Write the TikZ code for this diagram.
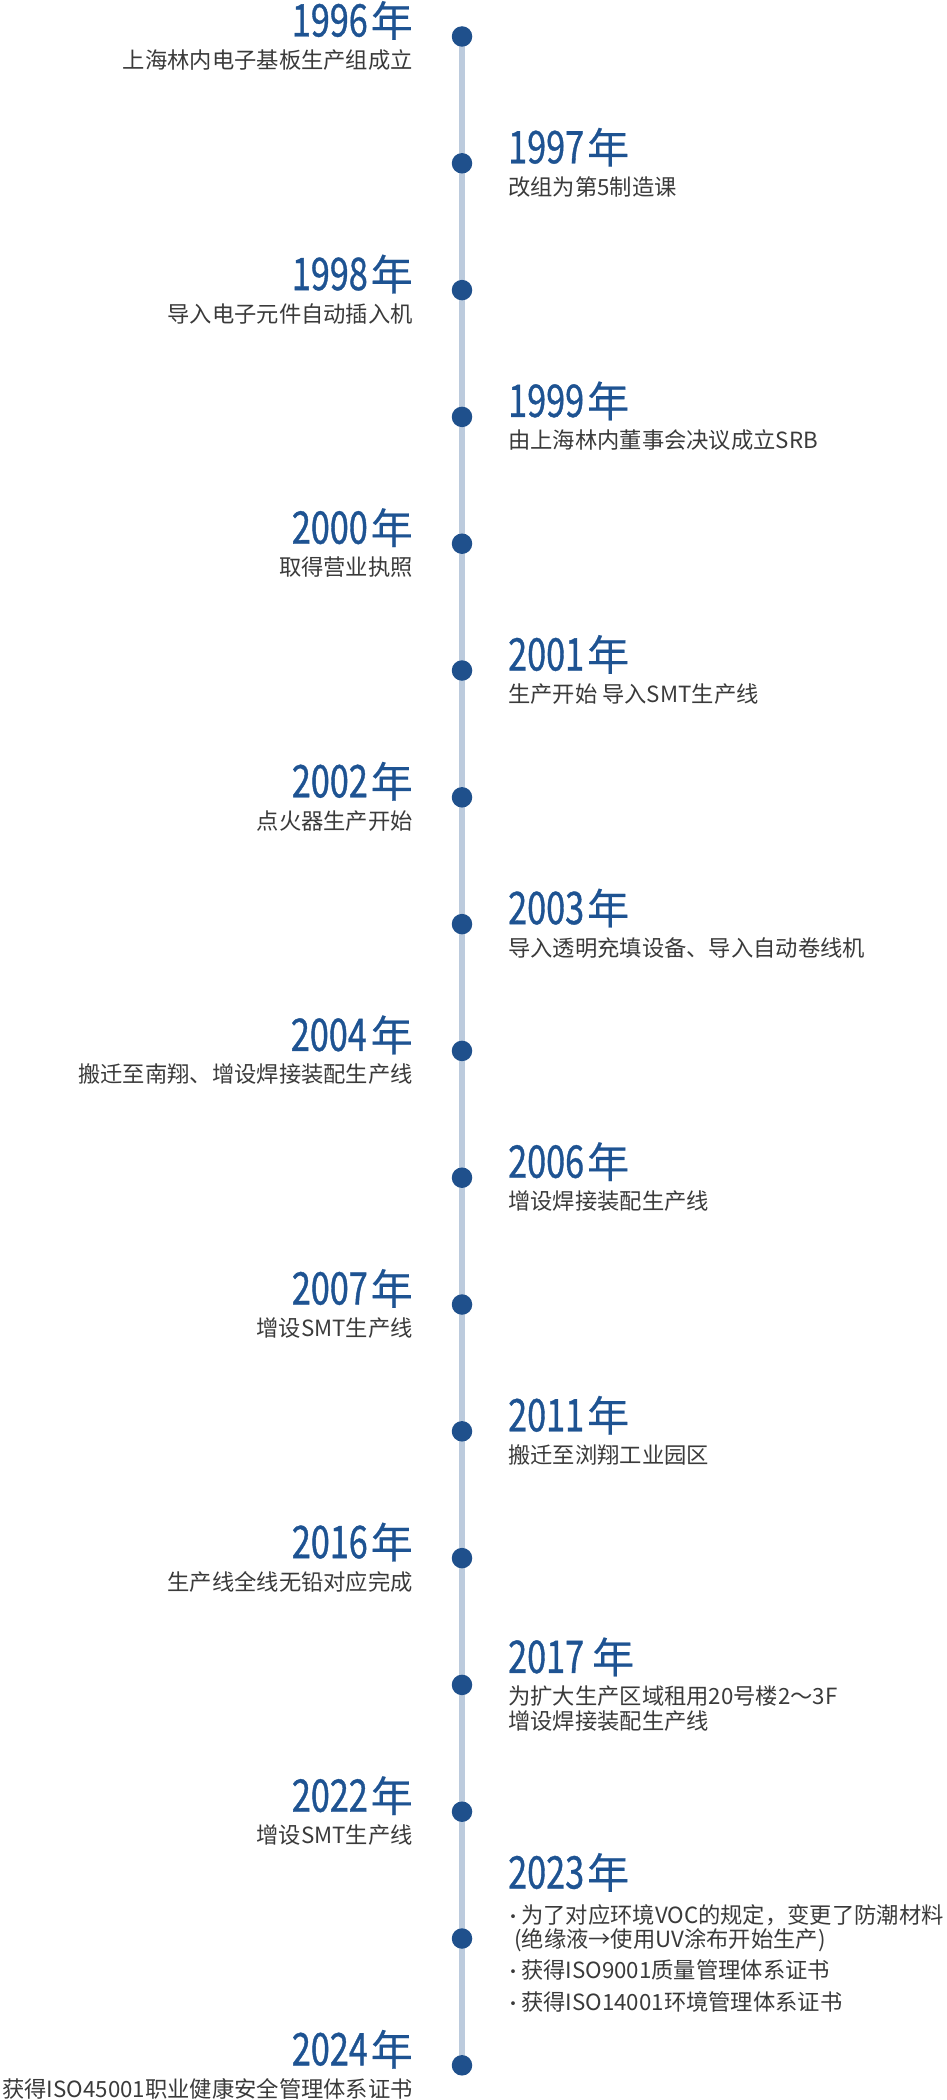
\documentclass[tikz,border=0pt]{standalone}
\usepackage{fontspec}
\newfontfamily\cjk{Noto Sans CJK SC}
\newfontfamily\yrnumfont[FakeStretch=0.76,FakeBold=0.8]{Noto Sans CJK SC}
\newfontfamily\yrcharfont[FakeBold=0.4]{Noto Sans CJK SC}
\definecolor{dotblue}{HTML}{1F508C}
\definecolor{yearblue}{HTML}{1E5392}
\definecolor{linegray}{HTML}{BCCBDD}
\definecolor{txtgray}{HTML}{3A3A3A}
\newcommand\yrtxt[2]{{\yrnumfont\fontsize{45}{45}\selectfont #1}\hspace{#2}{\yrcharfont\fontsize{42}{42}\selectfont 年}}
\tikzset{
  tldot/.style={circle,fill=dotblue,inner sep=0pt,minimum size=20.5pt},
  tlline/.style={draw=linegray,line width=6pt},
  yrL/.style={anchor=base east,inner sep=0pt,text=yearblue},
  yrR/.style={anchor=base west,inner sep=0pt,text=yearblue},
  dsL/.style={anchor=base east,inner sep=0pt,text=txtgray,font=\cjk\fontsize{22.3}{22.3}\selectfont},
  dsR/.style={anchor=base west,inner sep=0pt,text=txtgray,font=\cjk\fontsize{22.3}{22.3}\selectfont},
  bullet/.style={anchor=base,inner sep=0pt,text=txtgray,font=\cjk\fontsize{18}{18}\selectfont},
}
\begin{document}
\begin{tikzpicture}[x=1pt,y=-1pt]
\useasboundingbox (0,0) rectangle (947,2100);
\foreach \i in {1,...,17}{
  \coordinate (p\i) at (462,{36.5+126.8*(\i-1)});
}
\draw[tlline] (p1) -- (p17);
\foreach \i in {1,...,17}{
  \node[tldot] (d\i) at (p\i) {};
}
% 1996
\node[yrL] (y1) at ([xshift=-49pt]p1) {\yrtxt{1996}{3pt}};
\node[dsL] (t1) at ([xshift=-49pt,yshift=-32pt]p1) {上海林内电子基板生产组成立};
% 1997
\node[yrR] (y2) at ([xshift=46pt]p2) {\yrtxt{1997}{3pt}};
\node[dsR] (t2) at ([xshift=46pt,yshift=-32pt]p2) {改组为第5制造课};
% 1998
\node[yrL] (y3) at ([xshift=-49pt]p3) {\yrtxt{1998}{3pt}};
\node[dsL] (t3) at ([xshift=-49pt,yshift=-32pt]p3) {导入电子元件自动插入机};
% 1999
\node[yrR] (y4) at ([xshift=46pt]p4) {\yrtxt{1999}{3pt}};
\node[dsR] (t4) at ([xshift=46pt,yshift=-32pt]p4) {由上海林内董事会决议成立SRB};
% 2000
\node[yrL] (y5) at ([xshift=-49pt]p5) {\yrtxt{2000}{3pt}};
\node[dsL] (t5) at ([xshift=-49pt,yshift=-32pt]p5) {取得营业执照};
% 2001
\node[yrR] (y6) at ([xshift=46pt]p6) {\yrtxt{2001}{3pt}};
\node[dsR] (t6) at ([xshift=46pt,yshift=-32pt]p6) {生产开始 导入SMT生产线};
% 2002
\node[yrL] (y7) at ([xshift=-49pt]p7) {\yrtxt{2002}{3pt}};
\node[dsL] (t7) at ([xshift=-49pt,yshift=-32pt]p7) {点火器生产开始};
% 2003
\node[yrR] (y8) at ([xshift=46pt]p8) {\yrtxt{2003}{3pt}};
\node[dsR] (t8) at ([xshift=46pt,yshift=-32pt]p8) {导入透明充填设备、导入自动卷线机};
% 2004
\node[yrL] (y9) at ([xshift=-49pt]p9) {\yrtxt{2004}{4pt}};
\node[dsL] (t9) at ([xshift=-49pt,yshift=-32pt]p9) {搬迁至南翔、增设焊接装配生产线};
% 2006
\node[yrR] (y10) at ([xshift=46pt]p10) {\yrtxt{2006}{3pt}};
\node[dsR] (t10) at ([xshift=46pt,yshift=-32pt]p10) {增设焊接装配生产线};
% 2007
\node[yrL] (y11) at ([xshift=-49pt]p11) {\yrtxt{2007}{3pt}};
\node[dsL] (t11) at ([xshift=-49pt,yshift=-32pt]p11) {增设SMT生产线};
% 2011
\node[yrR] (y12) at ([xshift=46pt]p12) {\yrtxt{2011}{3pt}};
\node[dsR] (t12) at ([xshift=46pt,yshift=-32pt]p12) {搬迁至浏翔工业园区};
% 2016
\node[yrL] (y13) at ([xshift=-49pt]p13) {\yrtxt{2016}{3pt}};
\node[dsL] (t13) at ([xshift=-49pt,yshift=-32pt]p13) {生产线全线无铅对应完成};
% 2017
\node[yrR] (y14) at ([xshift=46pt,yshift=12pt]p14) {\yrtxt{2017}{8pt}};
\node[dsR] (t14a) at ([xshift=46pt,yshift=-20pt]p14) {为扩大生产区域租用20号楼2～3F};
\node[dsR] (t14b) at ([xshift=46pt,yshift=-45pt]p14) {增设焊接装配生产线};
% 2022
\node[yrL] (y15) at ([xshift=-49pt]p15) {\yrtxt{2022}{3pt}};
\node[dsL] (t15) at ([xshift=-49pt,yshift=-32pt]p15) {增设SMT生产线};
% 2023
\node[yrR] (y16) at ([xshift=46pt,yshift=50pt]p16) {\yrtxt{2023}{3pt}};
\node[bullet] (b16a) at ([xshift=51.5pt,yshift=15pt]p16) {·};
\node[dsR] (t16a) at ([xshift=59pt,yshift=15pt]p16) {为了对应环境VOC的规定，变更了防潮材料};
\node[dsR] (t16b) at ([xshift=52pt,yshift=-9pt]p16) {(绝缘液→使用UV涂布开始生产)};
\node[bullet] (b16c) at ([xshift=51.5pt,yshift=-40pt]p16) {·};
\node[dsR] (t16c) at ([xshift=59pt,yshift=-40pt]p16) {获得ISO9001质量管理体系证书};
\node[bullet] (b16d) at ([xshift=51.5pt,yshift=-72pt]p16) {·};
\node[dsR] (t16d) at ([xshift=59pt,yshift=-72pt]p16) {获得ISO14001环境管理体系证书};
% 2024
\node[yrL] (y17) at ([xshift=-49pt]p17) {\yrtxt{2024}{3pt}};
\node[dsL] (t17) at ([xshift=-49pt,yshift=-32pt]p17) {获得ISO45001职业健康安全管理体系证书};
\end{tikzpicture}
\end{document}
